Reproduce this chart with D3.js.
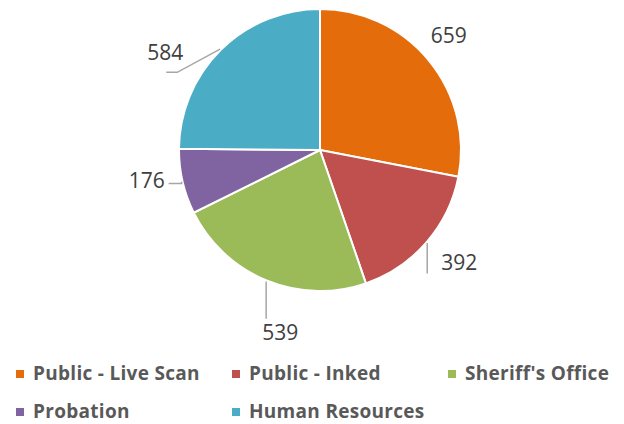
<!DOCTYPE html>
<meta charset="utf-8">
<body style="margin:0;background:#fff">
<style>
.label { font: 21px "Open Sans", sans-serif; fill: #404040; }
.legend text { font: bold 19px "Open Sans", sans-serif; fill: #595959; letter-spacing: 0.3px; }
.leader { fill: none; stroke: #a6a6a6; stroke-width: 1.5px; }
</style>
<script src="https://cdn.jsdelivr.net/npm/d3@7"></script>
<script>
var categories = ["Public - Live Scan", "Public - Inked", "Sheriff's Office", "Probation", "Human Resources"];
var values = [659, 392, 539, 176, 584];
var colors = ["#e46c0a", "#c0504d", "#9bbb59", "#8064a2", "#4bacc6"];

var width = 624, height = 424;
var cx = 320, cy = 150, radius = 141;

var svg = d3.select("body").append("svg")
    .attr("width", width)
    .attr("height", height);

var g = svg.append("g").attr("transform", "translate(" + cx + "," + cy + ")");

var pie = d3.pie().sort(null).value(function(d) { return d; });
var arc = d3.arc().innerRadius(0).outerRadius(radius);
var arcs = pie(values);

g.selectAll("path.slice")
  .data(arcs)
  .enter().append("path")
    .attr("class", "slice")
    .attr("d", arc)
    .attr("fill", function(d, i) { return colors[i]; })
    .attr("stroke", "#fff")
    .attr("stroke-width", 2);

// label placement (Excel pushes labels a bit around the outside)
var labelPos = [
  {da: -2, r: 172, leader: null},
  {da: -2, r: 179, leader: [[-33, 11]]},
  {da: -10, r: 187, leader: [[-15, -14]]},
  {da: 3, r: 176, leader: [[35, 3], [22, 3]]},
  {da: -13, r: 183, leader: [[12, 20], [1, 20]]}
];

function polar(a, r) { return [r * Math.sin(a), -r * Math.cos(a)]; }

arcs.forEach(function(d, i) {
  var mid = (d.startAngle + d.endAngle) / 2;
  var p = labelPos[i];
  var lp = polar(mid + p.da * Math.PI / 180, p.r);
  if (p.leader) {
    var e = polar(mid, radius + 1);
    var pts = [e];
    p.leader.forEach(function(o, k) {
      var pt = [lp[0] + o[0], lp[1] + o[1]];
      // vertical elbow for the short probation leader
      if (k == 0 && i == 3) pt[0] = e[0];
      if (i == 1 || i == 2) pt[0] = e[0];
      pts.push(pt);
    });
    g.append("path").attr("class", "leader").attr("d", d3.line()(pts));
  }
  g.append("text")
    .attr("class", "label")
    .attr("x", lp[0])
    .attr("y", lp[1])
    .attr("dy", "0.35em")
    .attr("text-anchor", "middle")
    .text(values[i]);
});

var legend = svg.append("g").attr("class", "legend");
var item = legend.selectAll("g")
  .data(categories)
  .enter().append("g")
    .attr("transform", function(d, i) {
      return "translate(" + (16 + (i % 3) * 216) + "," + (380 + Math.floor(i / 3) * 38) + ")";
    });
item.append("rect")
    .attr("y", -10).attr("width", 8).attr("height", 8)
    .attr("fill", function(d, i) { return colors[i]; });
item.append("text")
    .attr("x", 17)
    .text(function(d) { return d; });
</script>
</body>
